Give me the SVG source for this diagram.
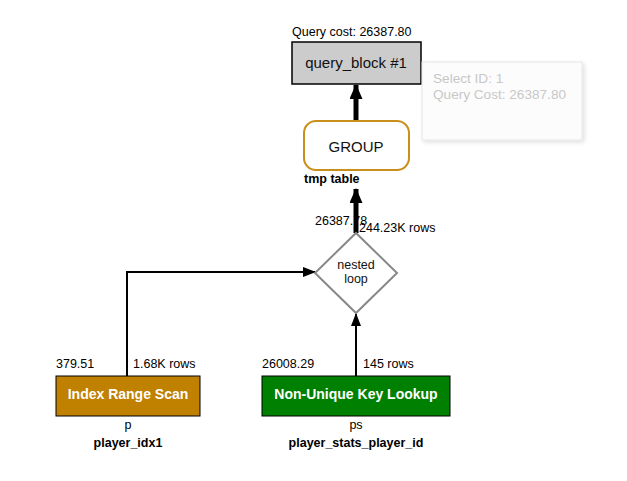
<svg xmlns="http://www.w3.org/2000/svg" width="627" height="481" viewBox="0 0 627 481">
<defs>
<style>
text{font-family:"Liberation Sans",Arial,sans-serif;fill:#000}
.sm{font-size:12.5px}
.b{font-weight:bold}
.node{font-size:15px;fill:#111}
.nl{font-size:12.5px;fill:#111}
.wt{font-size:14px;font-weight:bold;fill:#fff}
.tip{font-size:13.6px;fill:#c8c8c8}
.thin{stroke:#000;stroke-width:2;fill:none}
.thick{stroke:#000;stroke-width:5;fill:none}
</style>
<marker id="ah" markerWidth="13" markerHeight="10" refX="12" refY="5" orient="auto" markerUnits="userSpaceOnUse" viewBox="0 0 13 10"><path d="M0,0 L13,5 L0,10 z" fill="#000"/></marker>
<marker id="ahT" markerWidth="15" markerHeight="13" refX="14" refY="6.5" orient="auto" markerUnits="userSpaceOnUse" viewBox="0 0 15 13"><path d="M0,0 L15,6.5 L0,13 z" fill="#000"/></marker>
<filter id="sh" x="-10%" y="-10%" width="130%" height="130%"><feDropShadow dx="2" dy="2" stdDeviation="2" flood-color="#000" flood-opacity="0.12"/></filter>
</defs>
<rect width="627" height="481" fill="#fff"/>
<g id="labels">
<text class="sm" x="315" y="225" font-size="12px">26387.78</text>
<text class="sm" x="359" y="232">244.23K rows</text>
<text class="sm" x="56" y="368">379.51</text>
<text class="sm" x="133" y="368">1.68K rows</text>
<text class="sm" x="262" y="368">26008.29</text>
<text class="sm" x="363" y="368">145 rows</text>
</g>
<g id="connectors">
<path class="thick" d="M356,120 L356,85" marker-end="url(#ahT)"/>
<path class="thick" d="M356,233 L356,189" marker-end="url(#ahT)"/>
<path class="thin" d="M127,376 L127,272 L315,272" marker-end="url(#ah)"/>
<path class="thin" d="M356,376 L356,314" marker-end="url(#ah)"/>
</g>
<g id="query_block">
<text class="sm" x="292" y="36">Query cost: 26387.80</text>
<rect x="292" y="42" width="129" height="42" fill="#cccccc" stroke="#000" stroke-width="1.5"/>
<text class="node" x="356" y="68" text-anchor="middle">query_block #1</text>
</g>
<g id="tooltip">
<rect x="422" y="62" width="160" height="78" fill="#fcfcfc" stroke="#e6e6e6" stroke-width="1" filter="url(#sh)"/>
<text class="tip" x="433" y="83">Select ID: 1</text>
<text class="tip" x="433" y="99">Query Cost: 26387.80</text>
</g>
<g id="group">
<rect x="304" y="121" width="105" height="49" rx="12" ry="12" fill="#fff" stroke="#c8901a" stroke-width="2"/>
<text class="node" x="356" y="152" text-anchor="middle">GROUP</text>
<text class="sm b" x="304" y="183">tmp table</text>
</g>
<g id="nested_loop">
<polygon points="356,233 397,273 356,313 315,273" fill="#fff" stroke="#888" stroke-width="2"/>
<text class="nl" x="356" y="269" text-anchor="middle">nested</text>
<text class="nl" x="356" y="283" text-anchor="middle">loop</text>
</g>
<g id="index_range_scan">
<rect x="56" y="376" width="144" height="40" fill="#c08000" stroke="#000" stroke-width="1"/>
<text class="wt" x="128" y="399" text-anchor="middle">Index Range Scan</text>
<text class="sm" x="128" y="429" text-anchor="middle">p</text>
<text class="sm b" x="128" y="447" text-anchor="middle">player_idx1</text>
</g>
<g id="non_unique_key_lookup">
<rect x="262" y="376" width="188" height="40" fill="#008000" stroke="#000" stroke-width="1"/>
<text class="wt" x="356" y="399" text-anchor="middle">Non-Unique Key Lookup</text>
<text class="sm" x="356" y="429" text-anchor="middle">ps</text>
<text class="sm b" x="356" y="447" text-anchor="middle">player_stats_player_id</text>
</g>
</svg>
